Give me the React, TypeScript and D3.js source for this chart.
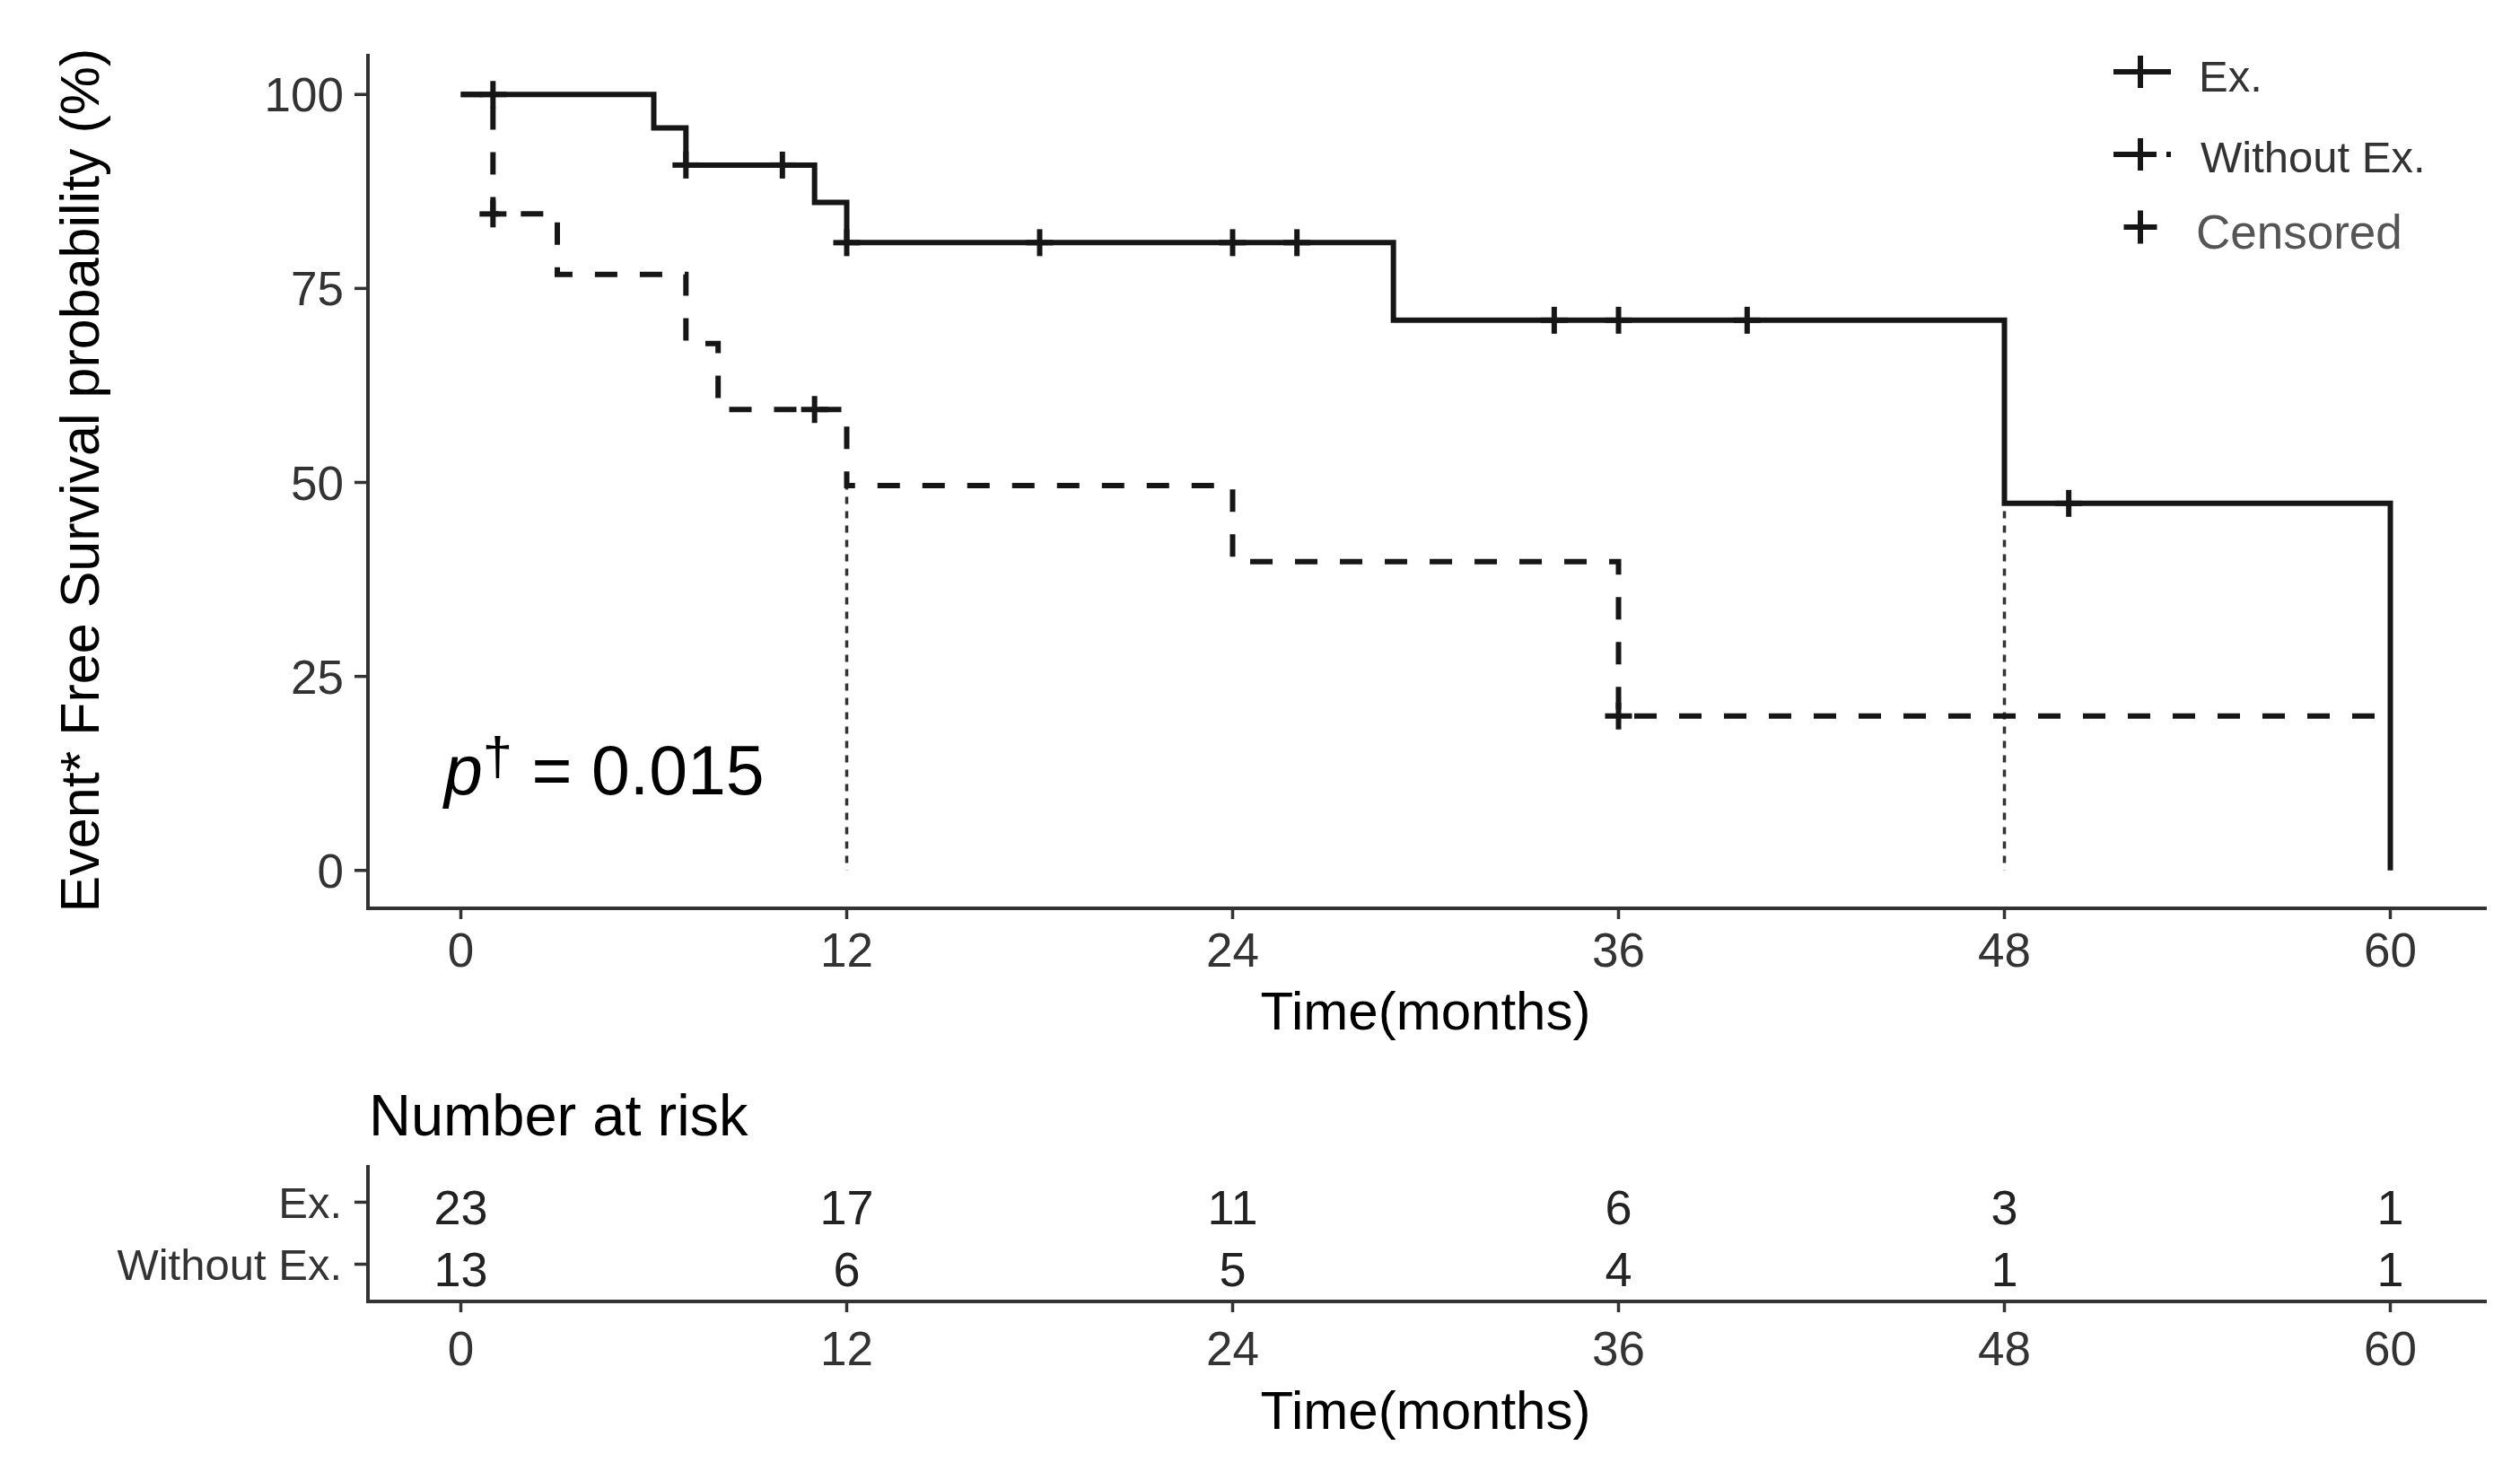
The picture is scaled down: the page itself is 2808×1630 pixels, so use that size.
import React from 'react';
import * as d3 from 'd3';

// 時間刻度 (月)
const months = [0, 12, 24, 36, 48, 60];
const yTicks = [0, 25, 50, 75, 100];
const groups = ['Ex.', 'Without Ex.'];

// KM 階梯點 [time, survival %]
const exSteps: [number, number][] = [
    [0, 100], [6, 95.7], [7, 90.9], [11, 86.1], [12, 80.9], [29, 70.9], [48, 47.3], [60, 0],
];
const woSteps: [number, number][] = [
    [0, 100], [1, 84.6], [3, 76.8], [7, 67.9], [8, 59.4], [12, 49.6], [24, 39.8], [36, 19.9], [60, 19.9],
];
// 截尾點
const exCensor: [number, number][] = [
    [1, 100], [7, 90.9], [10, 90.9], [12, 80.9], [18, 80.9], [24, 80.9], [26, 80.9],
    [34, 70.9], [36, 70.9], [40, 70.9], [50, 47.3],
];
const woCensor: [number, number][] = [[1, 84.6], [11, 59.4], [36, 19.9]];
// 中位數
const medians = [12, 48];
// Number at risk
const riskEx = [23, 17, 11, 6, 3, 1];
const riskWo = [13, 6, 5, 4, 1, 1];

const FONT = '"Liberation Sans", Arial, sans-serif';
const INK = '#161616';
const AXIS = '#333';

const Cross: React.FC<{ cx: number; cy: number; s: number; w?: number }> = ({cx, cy, s, w = 6}) => (
    <g stroke={INK} strokeWidth={w}>
        <line x1={cx - s / 2} x2={cx + s / 2} y1={cy} y2={cy}/>
        <line x1={cx} x2={cx} y1={cy - s / 2} y2={cy + s / 2}/>
    </g>
);

const App: React.FC = () => {
    const W = 2808;
    const H = 1630;

    const x = d3.scaleLinear().domain([-3, 63]).range([406, 2771]);
    const y = d3.scaleLinear().domain([-5, 105]).range([1013, 62]);
    const yRisk = d3.scalePoint<string>().domain(groups).range([1298, 1450]).padding(0.6);

    const step = d3.line<[number, number]>()
        .x(d => x(d[0]))
        .y(d => y(d[1]))
        .curve(d3.curveStepAfter);

    const axisLeft = 410;
    const axisBottom = 1012;
    const riskBottom = 1450;
    const cx = (406 + 2771) / 2;

    const riskRows = [riskEx, riskWo];

    return (
        <svg width={W} height={H} viewBox={`0 0 ${W} ${H}`}
             style={{position: 'absolute', left: 0, top: 0, background: '#fff'}}
             fontFamily={FONT}>
            {/* 主圖座標軸 */}
            <line x1={axisLeft} x2={axisLeft} y1={60} y2={axisBottom + 2} stroke={AXIS} strokeWidth={4}/>
            <line x1={axisLeft - 2} x2={2771} y1={axisBottom} y2={axisBottom} stroke={AXIS} strokeWidth={4}/>
            {yTicks.map(t => (
                <g key={'y' + t}>
                    <line x1={395} x2={axisLeft} y1={y(t)} y2={y(t)} stroke={AXIS} strokeWidth={3.5}/>
                    <text x={383} y={y(t)} dy="0.36em" textAnchor="end" fontSize={53} fill="#333">{t}</text>
                </g>
            ))}
            {months.map(m => (
                <g key={'x' + m}>
                    <line x1={x(m)} x2={x(m)} y1={axisBottom} y2={axisBottom + 12} stroke={AXIS} strokeWidth={3.5}/>
                    <text x={x(m)} y={1077} textAnchor="middle" fontSize={53} fill="#333">{m}</text>
                </g>
            ))}
            <text x={cx} y={1147} textAnchor="middle" fontSize={60} fill="#000">Time(months)</text>
            <text transform="translate(110,535) rotate(-90)" textAnchor="middle" fontSize={61} fill="#000">
                Event* Free Survival probability (%)
            </text>

            {/* 中位數虛線 */}
            {medians.map(m => (
                <line key={'med' + m} x1={x(m)} x2={x(m)} y1={y(50)} y2={y(0)}
                      stroke="#333" strokeWidth={3.5} strokeDasharray="8,8"/>
            ))}

            {/* 生存曲線 */}
            <path d={step(woSteps) || ''} fill="none" stroke={INK} strokeWidth={6} strokeDasharray="25,25"/>
            <path d={step(exSteps) || ''} fill="none" stroke={INK} strokeWidth={6}/>
            {exCensor.map((d, i) => <Cross key={'ce' + i} cx={x(d[0])} cy={y(d[1])} s={30}/>)}
            {woCensor.map((d, i) => <Cross key={'cw' + i} cx={x(d[0])} cy={y(d[1])} s={30}/>)}

            {/* p 值 */}
            <text x={495} y={885} fontSize={77} fill="#000">
                <tspan fontStyle="italic">p</tspan>
                <tspan fontSize={60} dy={-22}>†</tspan>
                <tspan dy={22}> = 0.015</tspan>
            </text>

            {/* 圖例 */}
            <line x1={2355} x2={2419} y1={80} y2={80} stroke={INK} strokeWidth={6}/>
            <Cross cx={2385} cy={80} s={36}/>
            <text x={2450} y={102} fontSize={49} fill="#333">Ex.</text>
            <line x1={2355} x2={2421} y1={172} y2={172} stroke={INK} strokeWidth={6} strokeDasharray="46,13,5"/>
            <Cross cx={2385} cy={172} s={36}/>
            <text x={2452} y={192} fontSize={49} fill="#333">Without Ex.</text>
            <Cross cx={2385} cy={253} s={37}/>
            <text x={2447} y={277} fontSize={53} fill="#555">Censored</text>

            {/* Number at risk 表 */}
            <text x={411} y={1265} fontSize={65} fill="#000">Number at risk</text>
            <line x1={axisLeft} x2={axisLeft} y1={1298} y2={riskBottom + 2} stroke={AXIS} strokeWidth={4}/>
            <line x1={axisLeft - 2} x2={2771} y1={riskBottom} y2={riskBottom} stroke={AXIS} strokeWidth={4}/>
            {groups.map((g, gi) => (
                <g key={'r' + g}>
                    <line x1={395} x2={axisLeft} y1={yRisk(g)!} y2={yRisk(g)!} stroke={AXIS} strokeWidth={3.5}/>
                    <text x={381} y={yRisk(g)!} dy="0.36em" textAnchor="end" fontSize={49} fill="#333">{g}</text>
                    {riskRows[gi].map((n, i) => (
                        <text key={i} x={x(months[i])} y={yRisk(g)! + 5} dy="0.36em" textAnchor="middle"
                              fontSize={54} fill="#222">{n}</text>
                    ))}
                </g>
            ))}
            {months.map(m => (
                <g key={'rx' + m}>
                    <line x1={x(m)} x2={x(m)} y1={riskBottom} y2={riskBottom + 12} stroke={AXIS} strokeWidth={3.5}/>
                    <text x={x(m)} y={1521} textAnchor="middle" fontSize={53} fill="#333">{m}</text>
                </g>
            ))}
            <text x={cx} y={1592} textAnchor="middle" fontSize={60} fill="#000">Time(months)</text>
        </svg>
    );
};

export default App;
